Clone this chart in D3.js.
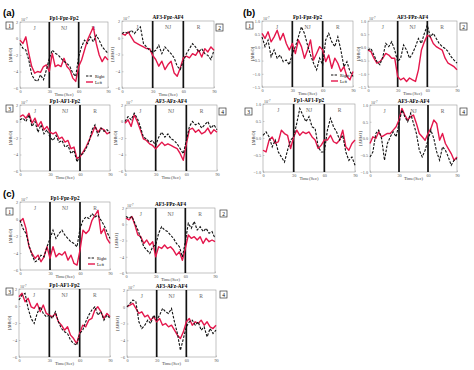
<!DOCTYPE html>
<html>
<head>
<meta charset="utf-8">
<script src="https://cdn.jsdelivr.net/npm/d3@7"></script>
<style>
body { margin: 0; background: #fff; }
svg { display: block; }
</style>
</head>
<body>
<svg id="chart" width="474" height="370"></svg>
<script>
// time samples (sec) and axis ticks
const time = [0,3,6,9,12,15,18,21,24,27,30,33,36,39,42,45,48,51,54,57,60,63,66,69,72,75,78,81,84,87,90]
const timeTicks = [0, 30, 60, 90]
const segments = ['J', 'NJ', 'R']
const segmentCentres = [15, 45, 75]
const segmentBounds = [30, 60]
const channels = ['Fp1-Fpz-Fp2', 'AF3-Fpz-AF4', 'Fp1-AF1-Fp2', 'AF3-AFz-AF4']
const channelsB = ['Fp1-Fpz-Fp2', 'AF3-FPz-AF4', 'Fp1-AF1-Fp2', 'AF3-AFz-AF4']
const channelsC = ['Fp1-Fpz-Fp2', 'AF3-FPz-AF4', 'Fp1-AF1-Fp2', 'AF3-AFz-AF4']
const ticksAC = [-6, -4, -2, 0, 2]
const ticksB12 = [-1.5, -1, -0.5, 0, 0.5, 1]
const ticksB34 = [-1, -0.5, 0, 0.5, 1]

// (a)
const aRight1 = [-0.6,-1.2,-1.4,-2.6,-4.4,-5,-5.2,-4.4,-5,-3.8,-2.4,-1.4,-1.8,-2,-2.4,-2.8,-3,-3.4,-4.2,-4.6,-2.2,-1,-0.2,-0.6,0.2,-0.4,0.4,-0.2,-1,-1.4,-1.8]
const aLeft1 = [-0.2,-0.6,0.2,-1.8,-3.4,-4.2,-4,-4.1,-3.4,-3.2,-4,-1.8,-3.4,-3.2,-3.4,-2.4,-3.4,-3.8,-4.8,-5.2,-3.4,-2.6,-1.4,-0.2,0.6,1.4,-0.6,-2,-2.8,-2.2,-2.6]
const aRight2 = [0.5,0.7,0.5,0.9,0.5,0.9,1.3,-0.7,-1.1,-1.5,-1.7,-1.5,-0.9,-1.9,-1.1,-1.5,-1.9,-2.4,-3.4,-3.8,-2.8,-1.9,-1.3,-0.7,-1.1,-1.7,-1.3,-1.9,-2.1,-2.6,-1.5]
const aLeft2 = [0.5,0.3,0.7,0.1,-0.5,-0.7,-0.9,-1.1,-1.3,-1.3,-2.1,-2.6,-3.4,-2.8,-3.8,-3.2,-2.8,-4.2,-4.6,-3.6,-2.4,-2.2,-2.4,-1.9,-2.1,-1.5,-2.3,-1.3,-1.7,-1.1,-1.5]
const aRight3 = [0.2,0.4,0,0.8,-0.6,0,-1.3,-0.4,-1.5,-1,-1.9,-2.3,-1.7,-2.5,-2.3,-3.1,-2.9,-3.9,-3.5,-4.9,-4.1,-3.9,-3.3,-2.5,-1,-0.4,-1.7,-0.8,-1.2,-1,-1.4]
const aLeft3 = [0.6,0.8,0.4,1,-0.2,0.4,-0.6,0,-1,-0.6,-1.3,-1.5,-1.3,-2.1,-1.9,-2.5,-2.3,-3.3,-3.1,-4.5,-4.3,-3.7,-3.1,-2.3,-1.5,-0.6,-1.3,-0.8,-1,-1.5,-1.3]
const aRight4 = [0,0.6,0.2,1,0.4,-0.6,-1.9,-2.1,-2.5,-2.3,-2.9,-1.9,-1.3,-1.9,-1.5,-2.1,-2.3,-2.7,-3.3,-3.9,-2.3,-0.6,0,-0.4,-0.2,-0.8,-0.4,0,-0.8,-0.4,-1]
const aLeft4 = [-0.2,0.2,-0.6,0.8,0,-1,-2.1,-2.3,-2.7,-2.9,-3.3,-2.9,-2.5,-2.9,-2.7,-2.9,-3.1,-3.3,-3.9,-4.7,-2.7,-1,-0.8,-1.3,-1,-1.5,-1.3,-0.8,-1.5,-1,-1.3]

// (b)
const bRight1 = [0.4,0.03,0.28,-0.35,-0.1,-0.41,-0.29,-0.54,-0.48,-0.66,-0.23,0.03,0.4,0.78,0.53,0.09,-0.29,-0.6,-0.85,-0.41,-0.66,0.28,0.53,0.21,0.03,0.4,-0.1,-0.73,-0.54,-0.91,-1.1]
const bLeft1 = [0.53,0.34,0.59,0.21,0.4,0.65,0.28,0.53,0.15,-0.1,0.15,-0.23,0.28,0.03,-0.41,-0.1,0.28,-0.48,-0.23,0.03,-0.1,-0.54,-0.29,-0.79,-0.41,-0.6,-0.91,-0.73,-1.1,-1.23,-0.91]
const bRight2 = [-0.1,-0.04,-0.29,-0.54,-0.66,-0.35,0.15,0.03,0.21,-0.1,-0.54,-0.41,0.09,-0.1,-0.41,-0.23,0.03,0.34,0.15,0.53,0.84,0.4,0.53,0.34,0.15,0.03,-0.04,-0.16,-0.35,-0.48,-0.6]
const bLeft2 = [-0.1,-0.16,-0.41,-0.6,-0.54,-0.41,-0.23,-0.29,-0.41,-0.41,-1.1,-1.23,-1.16,-1.29,-1.16,-1.23,-1.29,-0.85,-0.1,0.21,0.46,0.4,0.15,0.03,-0.04,-0.1,-0.41,-0.6,-0.66,-0.73,-0.85]
const bRight3 = [0.08,0.18,0.03,-0.26,-0.06,-0.41,-0.56,-0.71,-0.36,-0.06,0.03,0.43,0.87,0.67,0.48,0.63,0.33,0.28,-0.26,-0.41,-0.41,0.23,0.58,0.33,0.18,-0.06,0.08,-0.41,-0.66,-0.56,-0.8]
const bLeft3 = [-0.36,-0.41,-0.06,0.03,-0.16,-0.11,0.23,0.13,0.08,-0.31,0.03,0.23,0.08,0.18,0.13,0.18,0.03,-0.06,-0.31,-0.21,-0.06,-0.06,0.08,-0.11,-0.16,-0.06,0.23,-0.26,-0.36,-0.16,-0.06]
const bRight4 = [-0.55,-0.4,0.15,0.25,0,-0.65,-0.15,0.05,0.2,0.05,0.45,0.85,0.65,0.5,0.75,0.45,0.15,-0.35,-0.55,-0.35,-0.05,0.25,0,-0.4,-0.65,-0.25,-0.35,-0.55,-0.8,-0.65,-0.6]
const bLeft4 = [-0.15,0.05,0,0.2,0.05,0.1,0.15,0.15,0.25,0.35,0.55,0.9,0.7,0.55,0.65,0.7,0.45,0.15,0.05,-0.05,0.15,0.3,0.55,0.45,-0.05,0.15,-0.15,-0.3,-0.45,-0.65,-0.55]

// (c)
const cRight1 = [-0.15,-1.13,-1.71,-3.08,-4.25,-5.03,-4.84,-4.25,-4.45,-3.27,-2.3,-1.32,-2.3,-1.71,-1.32,-1.91,-2.3,-2.69,-2.88,-3.27,-1.13,-0.15,0.24,0.05,0.63,0.24,0.44,-0.15,-0.73,-1.52,-2.3]
const cLeft1 = [-0.34,0.05,-1.13,-3.27,-4.05,-4.64,-4.25,-5.03,-4.45,-3.27,-4.64,-3.27,-4.45,-4.05,-4.25,-3.86,-4.84,-4.25,-5.23,-5.42,-3.66,-1.32,-1.71,-1.32,-0.15,0.44,1.02,-1.71,-1.13,-2.3,-2.88]
const cRight2 = [0.96,0.75,0.96,0.12,-0.71,-1.73,-2.77,-3.18,-3.6,-2.77,-2.56,-1.11,-0.3,-0.71,-0.9,-1.32,-1.73,-2.36,-2.77,-4.02,-2.15,0.12,-0.5,0.34,-0.71,-0.3,-0.9,-0.5,-1.11,-0.9,-1.73]
const cLeft2 = [0.75,0.54,0.96,-0.08,-1.32,-1.53,-2.36,-1.94,-2.56,-2.15,-4.02,-2.77,-2.98,-2.56,-2.98,-2.77,-3.18,-3.8,-3.39,-4.43,-2.98,-1.32,-1.73,-1.53,-1.94,-1.53,-2.36,-1.73,-2.15,-1.94,-2.15]
const cRight3 = [0.7,1.29,1.49,-0.28,-1.46,-2.06,-0.87,-0.09,-0.87,-1.27,-1.07,-1.46,-0.67,-1.86,-2.65,-3.04,-3.24,-4.02,-4.42,-4.61,-3.24,-2.85,-1.86,-1.07,-0.48,-0.09,-1.07,-0.67,-1.66,-1.07,-1.46]
const cLeft3 = [1.09,1.49,0.5,0.9,-0.09,-0.28,0.31,-0.67,0.11,-0.87,-1.07,-1.27,-0.87,-1.86,-2.25,-2.85,-2.45,-3.43,-3.83,-4.42,-3.24,-2.25,-2.45,-1.66,-1.46,-0.48,-0.09,-0.67,-1.46,-0.87,-1.27]
const cRight4 = [0,0.4,0.8,0.6,-1.8,-2.6,-2.2,-1.6,-2,-1,-1.6,-1,-0.2,-0.6,-0.8,-0.2,-1.8,-3.2,-5.2,-3.8,-2.4,-1.8,-1.6,-2.2,-1.8,-2.8,-2.4,-3.6,-2.6,-3.2,-2.8]
const cLeft4 = [0,0.2,0.4,-0.2,-0.8,-0.6,-1.2,-1,-1.6,-1.2,-1.8,-1.4,-2.2,-2,-2.4,-2.2,-2.8,-3.4,-3.8,-3,-1.8,-1.4,-2.2,-1.8,-2,-1.6,-2.2,-1.8,-2.4,-2.6,-2.2]

const svg = d3.select('#chart')
const red = '#e4174c'
const serif = 'Liberation Serif, DejaVu Serif, serif'

// panel layout: box in pixels, number box position
const panels = [
  {x0: 20, x1: 108, y0: 22, y1: 88, dom: [-6, 2], ticks: ticksAC, title: channels[0], right: aRight1, left: aLeft1, num: 1, nx: 6, ny: 22, legend: true},
  {x0: 122, x1: 214, y0: 21, y1: 88, dom: [-6, 2], ticks: ticksAC, title: channels[1], right: aRight2, left: aLeft2, num: 2, nx: 216, ny: 24},
  {x0: 20, x1: 110, y0: 105, y1: 171, dom: [-6, 2], ticks: ticksAC, title: channels[2], right: aRight3, left: aLeft3, num: 3, nx: 6, ny: 105},
  {x0: 125, x1: 217, y0: 105, y1: 171, dom: [-6, 2], ticks: ticksAC, title: channels[3], right: aRight4, left: aLeft4, num: 4, nx: 219, ny: 108},

  {x0: 262, x1: 353, y0: 21, y1: 87, dom: [-1.5, 1], ticks: ticksB12, title: channelsB[0], right: bRight1, left: bLeft1, num: 1, nx: 246, ny: 22, legend: true},
  {x0: 368, x1: 457, y0: 21, y1: 87, dom: [-1.5, 1], ticks: ticksB12, title: channelsB[1], right: bRight2, left: bLeft2, num: 2, nx: 460, ny: 23},
  {x0: 263, x1: 355, y0: 104, y1: 172, dom: [-1, 1], ticks: ticksB34, title: channelsB[2], right: bRight3, left: bLeft3, num: 3, nx: 245, ny: 108},
  {x0: 370, x1: 457, y0: 105, y1: 172, dom: [-1, 1], ticks: ticksB34, title: channelsB[3], right: bRight4, left: bLeft4, num: 4, nx: 460, ny: 108},

  {x0: 20, x1: 110, y0: 202, y1: 270, dom: [-6, 2], ticks: ticksAC, title: channelsC[0], right: cRight1, left: cLeft1, num: 1, nx: 6, ny: 208, legend: true},
  {x0: 126, x1: 215, y0: 208, y1: 273, dom: [-6, 2], ticks: ticksAC, title: channelsC[1], right: cRight2, left: cLeft2, num: 2, nx: 220, ny: 210},
  {x0: 19, x1: 110, y0: 289, y1: 357, dom: [-6, 2], ticks: ticksAC, title: channelsC[2], right: cRight3, left: cLeft3, num: 3, nx: 6, ny: 288},
  {x0: 127, x1: 216, y0: 290, y1: 357, dom: [-6, 2], ticks: ticksAC, title: channelsC[3], right: cRight4, left: cLeft4, num: 4, nx: 220, ny: 291}
]

const drawPanel = p => {
  const g = svg.append('g')
  const x = d3.scaleLinear().domain([0, 90]).range([p.x0, p.x1])
  const y = d3.scaleLinear().domain(p.dom).range([p.y1, p.y0])

  g.append('rect')
    .attr('x', p.x0).attr('y', p.y0)
    .attr('width', p.x1 - p.x0).attr('height', p.y1 - p.y0)
    .attr('fill', '#fff').attr('stroke', '#9a9a9a').attr('stroke-width', 0.6)

  const xAxis = d3.axisBottom(x).tickValues(timeTicks).tickSize(-1.5).tickPadding(2)
  const yAxis = d3.axisLeft(y).tickValues(p.ticks).tickSize(-1.5).tickPadding(2)
  const xa = g.append('g').attr('transform', `translate(0,${p.y1})`).call(xAxis)
  const ya = g.append('g').attr('transform', `translate(${p.x0},0)`).call(yAxis)
  ;[xa, ya].forEach(a => {
    a.select('.domain').remove()
    a.selectAll('line').attr('stroke', '#999').attr('stroke-width', 0.5)
    a.selectAll('text').attr('font-size', 4.2).attr('font-family', serif).attr('fill', '#555')
  })

  // segment boundaries
  g.selectAll('line.seg')
    .data(segmentBounds)
    .enter()
    .append('line')
      .attr('class', 'seg')
      .attr('x1', d => x(d)).attr('x2', d => x(d))
      .attr('y1', p.y0).attr('y2', p.y1)
      .attr('stroke', '#111').attr('stroke-width', 1.7)

  g.selectAll('text.seglab')
    .data(segments)
    .enter()
    .append('text')
      .attr('class', 'seglab')
      .attr('x', (d, i) => x(segmentCentres[i]))
      .attr('y', p.y0 + 8)
      .attr('text-anchor', 'middle')
      .attr('font-size', 5.5).attr('font-family', serif).attr('fill', '#666')
      .text(d => d)

  const line = d3.line()
    .x((d, i) => x(time[i]))
    .y(d => y(d))

  g.append('path')
    .attr('d', line(p.left))
    .attr('fill', 'none').attr('stroke', red).attr('stroke-width', 1.4)
    .attr('stroke-linejoin', 'round')

  g.append('path')
    .attr('d', line(p.right))
    .attr('fill', 'none').attr('stroke', '#111').attr('stroke-width', 1.1)
    .attr('stroke-dasharray', '2.6,1.4')

  // title
  g.append('text')
    .attr('x', (p.x0 + p.x1) / 2).attr('y', p.y0 - 2.5)
    .attr('text-anchor', 'middle')
    .attr('font-size', 5.2).attr('font-weight', 'bold').attr('font-family', serif)
    .text(p.title)

  // exponent
  const ex = g.append('text')
    .attr('x', p.x0 + 1).attr('y', p.y0 - 1)
    .attr('font-size', 4).attr('font-family', serif).attr('fill', '#555')
  ex.append('tspan').text('10')
  ex.append('tspan').attr('dy', -1.5).attr('font-size', 3).text('-7')

  g.append('text')
    .attr('transform', `translate(${p.x0 - 8},${(p.y0 + p.y1) / 2}) rotate(-90)`)
    .attr('text-anchor', 'middle')
    .attr('font-size', 4.5).attr('font-family', serif).attr('fill', '#444')
    .text('[ΔHbO]')

  g.append('text')
    .attr('x', (p.x0 + p.x1) / 2).attr('y', p.y1 + 8)
    .attr('text-anchor', 'middle')
    .attr('font-size', 4.6).attr('font-family', serif).attr('fill', '#444')
    .text('Time(Sec)')

  // number box
  g.append('rect')
    .attr('x', p.nx).attr('y', p.ny).attr('width', 7).attr('height', 7)
    .attr('fill', '#fff').attr('stroke', '#333').attr('stroke-width', 0.7)
  g.append('text')
    .attr('x', p.nx + 3.5).attr('y', p.ny + 5.5)
    .attr('text-anchor', 'middle')
    .attr('font-size', 5.5).attr('font-family', serif)
    .text(p.num)

  if (p.legend) {
    const lx = p.x1 - 22
    const ly = p.y1 - 12
    g.append('line').attr('x1', lx).attr('x2', lx + 7).attr('y1', ly).attr('y2', ly)
      .attr('stroke', '#111').attr('stroke-width', 1.1).attr('stroke-dasharray', '2.4,1.2')
    g.append('text').attr('x', lx + 9).attr('y', ly + 1.5)
      .attr('font-size', 4.2).attr('font-family', serif).text('Right')
    g.append('line').attr('x1', lx).attr('x2', lx + 7).attr('y1', ly + 6).attr('y2', ly + 6)
      .attr('stroke', red).attr('stroke-width', 1.4)
    g.append('text').attr('x', lx + 9).attr('y', ly + 7.5)
      .attr('font-size', 4.2).attr('font-family', serif).text('Left')
  }
}

panels.forEach(drawPanel)

const groupLabels = [['(a)', 3, 16], ['(b)', 243, 16], ['(c)', 3, 197]]
svg.selectAll('text.group')
  .data(groupLabels)
  .enter()
  .append('text')
    .attr('class', 'group')
    .attr('x', d => d[1]).attr('y', d => d[2])
    .attr('font-size', 9.5).attr('font-weight', 'bold').attr('font-family', 'Liberation Sans, Arial, sans-serif')
    .text(d => d[0])
</script>
</body>
</html>
